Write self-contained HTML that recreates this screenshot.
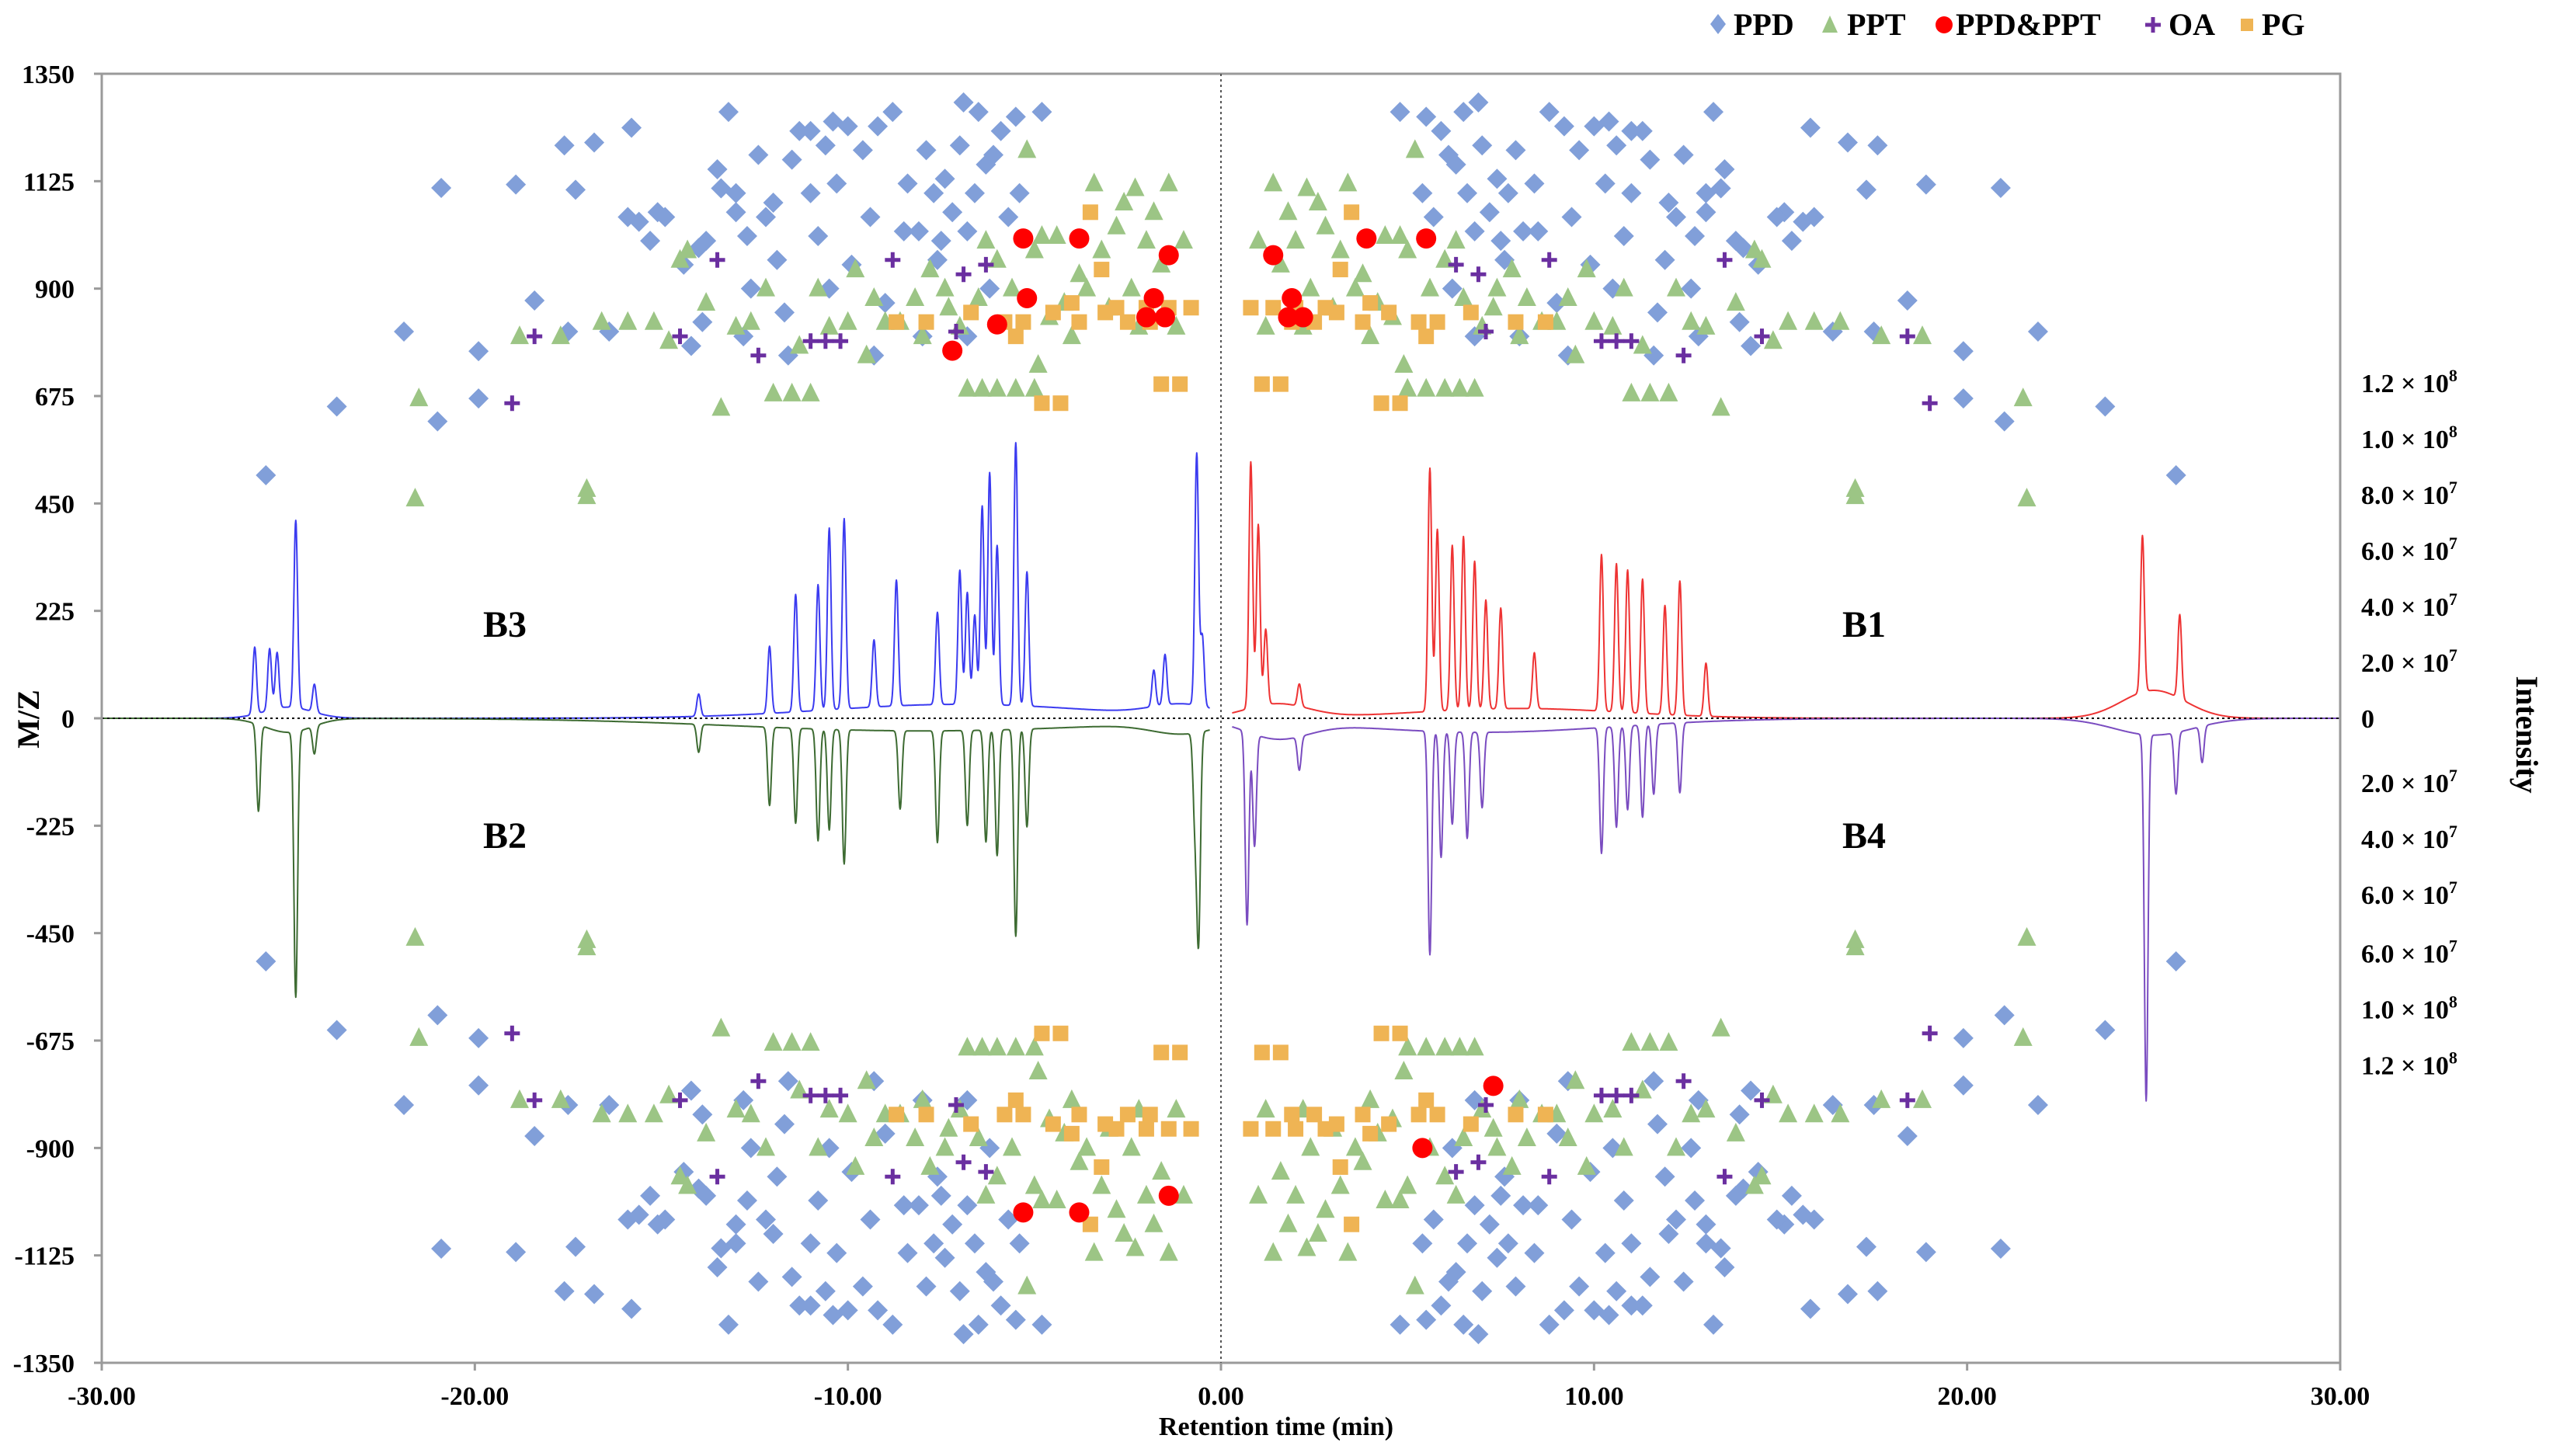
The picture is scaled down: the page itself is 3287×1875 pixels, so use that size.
<!DOCTYPE html>
<html><head><meta charset="utf-8"><style>
html,body{margin:0;padding:0;background:#fff;}
svg{display:block;font-family:"Liberation Serif",serif;font-weight:bold;}
</style></head><body>
<svg id="chart" width="3287" height="1875" viewBox="0 0 3287 1875" xmlns="http://www.w3.org/2000/svg">
<g id="plot"></g>
<g id="axes"></g>
<text x="0" y="0" transform="translate(50,926) rotate(-90)" text-anchor="middle" font-size="40">M/Z</text>
<text x="1643" y="1848" text-anchor="middle" font-size="34">Retention time (min)</text>
<text x="0" y="0" transform="translate(3240,946) rotate(90)" text-anchor="middle" font-size="40">Intensity</text>
<text x="650" y="820" text-anchor="middle" font-size="48">B3</text>
<text x="2400" y="820" text-anchor="middle" font-size="48">B1</text>
<text x="650" y="1092" text-anchor="middle" font-size="48">B2</text>
<text x="2400" y="1092" text-anchor="middle" font-size="48">B4</text>
<g font-size="40">
 <polygon points="2212,18 2222,31 2212,44 2202,31" fill="#819fd9"/>
 <text x="2232" y="45">PPD</text>
 <polygon points="2356,20 2366,42 2346,42" fill="#9cc585"/>
 <text x="2378" y="45">PPT</text>
 <circle cx="2503" cy="32" r="11" fill="#ff0000"/>
 <text x="2518" y="45">PPD&amp;PPT</text>
 <path d="M2762 32h20M2772 22v20" stroke="#7030a0" stroke-width="5"/>
 <text x="2792" y="45">OA</text>
 <rect x="2885" y="24" width="16" height="16" fill="#efb454"/>
 <text x="2912" y="45">PG</text>
</g>
</svg>
<script>
const xTicks=[-30,-20,-10,0,10,20,30];
const xTickLabels=["-30.00","-20.00","-10.00","0.00","10.00","20.00","30.00"];
const yTicks=[1350,1125,900,675,450,225,0,-225,-450,-675,-900,-1125,-1350];
const rightLabels=["1.2","1.0","8.0","6.0","4.0","2.0","0","2.0","4.0","6.0","6.0","1.0","1.2"];
const rightExp=["8","8","7","7","7","7","","7","7","7","7","8","8"];
const rightPos=[12,10,8,6,4,2,0,-2.3,-4.3,-6.3,-8.4,-10.4,-12.4];
// top-left quadrant scatter (time, m/z); other quadrants mirror (positive/negative modes)
const ppdX=[-25.6,-23.7,-21.9,-21.0,-20.9,-19.9,-19.9,-18.9,-18.4,-17.5,-17.3,-17.6,-16.8,-15.8,-16.4,-15.9,-15.6,-15.3,-15.1,-14.9,-14.4,-14.0,-13.8,-13.5,-13.4,-13.2,-13.0,-13.0,-12.7,-12.6,-12.4,-12.2,-12.0,-11.9,-11.7,-11.5,-11.3,-11.0,-11.0,-10.8,-10.6,-10.4,-10.3,-10.0,-9.9,-9.6,-9.4,-9.2,-9.0,-8.8,-8.5,-8.4,-8.1,-7.9,-7.7,-7.6,-7.4,-7.2,-7.0,-6.8,-6.6,-6.5,-6.3,-6.1,-5.9,-5.7,-5.5,-5.4,-6.9,-6.2,-8.0,-10.5,-12.8,-14.2,-13.9,-11.6,-9.3,-7.5,-6.8,-4.8];
const ppdY=[509,653,810,622,1111,769,670,1118,875,810,1107,1200,1206,1237,810,1050,1040,1000,1060,1050,950,985,1000,1150,1110,1270,1100,1060,1010,900,1180,1050,1080,960,850,1170,1230,1230,1100,1010,1200,1250,1120,1240,950,1190,1050,1240,870,1270,1020,1120,1020,1190,1100,960,1130,1060,1200,1020,1100,1270,1160,1180,1230,1050,1260,1100,1290,900,800,900,800,780,830,760,760,1000,800,1270];
const pptX=[-21.6,-21.5,-17.0,-17.0,-18.8,-17.7,-16.6,-15.2,-14.8,-14.5,-14.3,-13.4,-13.0,-12.6,-12.0,-11.5,-11.0,-10.5,-10.0,-9.8,-9.5,-9.0,-8.6,-8.0,-7.8,-7.4,-7.0,-6.8,-6.4,-6.0,-5.5,-7.3,-6.5,-6.0,-5.6,-5.0,-4.6,-4.4,-4.0,-3.6,-3.2,-2.8,-2.4,-2.0,-1.8,-1.4,-1.2,-2.2,-3.0,-4.8,-5.2,-4.2,-3.4,-2.6,-1.6,-10.8,-12.2,-13.8,-15.9,-11.3,-8.2,-9.3,-6.3,-4.9,-5.0,-1.0,-3.8,-2.3];
const pptY=[460,670,480,465,800,800,830,830,790,960,980,650,820,830,680,680,680,820,830,940,760,830,830,800,940,900,820,690,690,690,690,860,880,960,900,980,840,1010,800,900,980,1030,900,1000,1060,1120,820,820,860,1010,1190,870,1120,1080,950,900,900,870,830,780,880,880,1000,740,690,1000,930,1110];
const redX=[-5.3,-3.8,-1.4,-5.2,-1.8,-6.0,-2.0,-1.5,-7.2];
const redY=[1005,1005,970,880,880,825,840,840,770];
const redTRX=[1.4,3.9,5.5,1.9,1.8,2.2];
const redTRY=[970,1005,1005,880,840,840];
const redBLX=[-5.3,-3.8,-1.4];
const redBLY=[-1035,-1035,-1000];
const redBRX=[7.3,5.4];
const redBRY=[-770,-900];
const oaX=[-19.0,-18.4,-14.5,-13.5,-12.4,-11.0,-10.6,-10.2,-8.8,-6.9,-6.3,-7.1];
const oaY=[660,800,800,960,760,790,790,790,960,930,950,810];
const pgX=[-5.3,-4.8,-4.3,-1.6,-1.1,-3.5,-3.2,-2.8,-2.5,-2.0,-1.4,-0.8,-3.8,-4.5,-5.5,-6.7,-7.9,-8.7,-4.0,-5.8,-1.9,-3.1];
const pgY=[830,660,660,700,700,1060,940,860,830,860,860,860,830,850,800,850,830,830,870,830,830,850];
// chromatogram peaks: time (min), height (x1e7)
const b3T=[-25.9,-25.5,-25.3,-24.8,-24.3,-14.0,-12.1,-11.4,-10.8,-10.5,-10.1,-9.3,-8.7,-7.6,-7.0,-6.8,-6.6,-6.4,-6.2,-6.0,-5.5,-5.2,-1.8,-1.5,-0.65,-0.5];
const b3H=[2.4,2.2,2.0,6.7,1.0,0.8,2.4,4.2,4.5,6.5,6.8,2.4,4.5,3.3,4.8,4.0,3.2,7.1,8.3,5.7,9.4,4.8,1.3,1.8,9.0,2.5];
const b2T=[-25.8,-24.8,-24.3,-14.0,-12.1,-11.4,-10.8,-10.5,-10.1,-8.6,-7.6,-6.8,-6.3,-6.0,-5.5,-5.2,-0.7,-0.6];
const b2H=[3.1,9.5,1.0,1.0,2.8,3.4,4.0,3.6,4.8,2.8,4.0,3.4,4.0,4.5,7.4,3.5,3.0,7.3];
const b1T=[0.8,1.0,1.2,2.1,5.6,5.8,6.2,6.5,6.8,7.1,7.5,8.4,10.2,10.6,10.9,11.3,11.9,12.3,13.0,24.7,25.7];
const b1H=[8.8,6.5,2.7,0.8,8.7,6.5,5.9,6.2,5.3,3.9,3.6,2.0,5.6,5.3,5.1,4.8,3.9,4.8,1.9,5.6,3.0];
const b4T=[0.7,0.9,2.1,5.6,5.9,6.2,6.6,7.0,10.2,10.6,10.9,11.3,11.6,12.3,24.8,25.6,26.3];
const b4H=[6.9,4.0,1.2,8.0,4.5,3.3,3.8,2.7,4.5,3.6,3.0,3.3,2.5,2.5,13.1,2.2,1.3];
// broad background humps: center, width, height (x1e7)
const b3Base=[-25.0,0.9,0.4,-7,5,0.5,-1,1.2,0.4];
const b2Base=[-25.0,0.9,0.5,-8,7,0.45,-1,1.2,0.4];
const b1Base=[1.5,1.2,0.5,8,4,0.35,25,1.2,1.0];
const b4Base=[1.5,1.2,0.6,7,5,0.5,25,1.5,0.6];

const NS="http://www.w3.org/2000/svg";
const L=131,R=3013,T=95,B=1755,Y0=925;
const xs=t=>L+(t+30)/60*(R-L);
const ys=m=>Y0-m/1350*(Y0-T);
const is=h=>h*36;
const plot=document.getElementById('plot'),axes=document.getElementById('axes');
function mk(tag,attrs,parent){const e=document.createElementNS(NS,tag);for(const k in attrs)e.setAttribute(k,attrs[k]);parent.appendChild(e);return e;}

let fr=mk('rect',{x:L,y:T,width:R-L,height:B-T,fill:'none',stroke:'#9a9a9a','stroke-width':3},axes);


let vl=mk('line',{x1:xs(0),x2:xs(0),y1:T,y2:B,stroke:'#555','stroke-width':2,'stroke-dasharray':'3,4'},axes);


yTicks.forEach(v=>{
  let tk=mk('line',{x1:L-10,x2:L,y1:ys(v),y2:ys(v),stroke:'#9a9a9a','stroke-width':3},axes);
  
  
  let tx=mk('text',{x:L-35,y:ys(v)+12,'text-anchor':'end','font-size':34},axes);
  tx.textContent=v;
  
  
});
xTicks.forEach((v,i)=>{
  let tk=mk('line',{x1:xs(v),x2:xs(v),y1:B,y2:B+10,stroke:'#9a9a9a','stroke-width':3},axes);
  
  
  let tx=mk('text',{x:xs(v),y:B+54,'text-anchor':'middle','font-size':34},axes);
  tx.textContent=xTickLabels[i];
  
  
});
rightLabels.forEach((s,i)=>{
  let tx=mk('text',{x:3040,y:Y0-is(rightPos[i])+12,'font-size':34},axes);
  
  
  if(rightExp[i]){
    tx.textContent=s+' \u00d7 10';
    let sp=mk('tspan',{dy:-14,'font-size':22},tx);sp.textContent=rightExp[i];
  } else tx.textContent=s;
});

function trace(Ts,Hs,t0,t1,dir,color,name,base){
  let d='';
  for(let t=t0;t<=t1+1e-9;t+=0.01){
    let h=0;
    for(let k=0;k<Ts.length;k++){const z=(t-Ts[k])/0.07;h+=Hs[k]*Math.exp(-z*z);}
    for(let k=0;k<base.length;k+=3){const z=(t-base[k])/base[k+1];h+=base[k+2]*Math.exp(-z*z);}
    d+=(d?'L':'M')+xs(t).toFixed(1)+' '+(Y0-dir*is(h)).toFixed(1);
  }
  let p=mk('path',{d:d,fill:'none',stroke:color,'stroke-width':2,'stroke-linejoin':'round'},plot);
  
  
}
trace(b3T,b3H,-30,-0.3,1,'#3b3bf0','trace-b3',b3Base);
trace(b2T,b2H,-30,-0.3,-1,'#3d6b32','trace-b2',b2Base);
trace(b1T,b1H,0.3,30,1,'#ee3333','trace-b1',b1Base);
trace(b4T,b4H,0.3,30,-1,'#7a4cc0','trace-b4',b4Base);
let hl=mk('line',{x1:L,x2:R,y1:Y0,y2:Y0,stroke:'#000','stroke-width':2,'stroke-dasharray':'3,4'},plot);



function diamond(x,y,g){const s=13;let e=mk('polygon',{points:`${x},${y-s} ${x+s},${y} ${x},${y+s} ${x-s},${y}`,fill:'#819fd9'},g);}
function tri(x,y,g){let e=mk('polygon',{points:`${x},${y-14} ${x+12},${y+10} ${x-12},${y+10}`,fill:'#9cc585'},g);}
function circ(x,y,g){let e=mk('circle',{cx:x,cy:y,r:13,fill:'#ff0000'},g);}
function plus(x,y,g){let e=mk('path',{d:`M${x-10} ${y}h20M${x} ${y-10}v20`,stroke:'#6a2fa0','stroke-width':5},g);}
function sq(x,y,g){let e=mk('rect',{x:x-10,y:y-10,width:20,height:20,fill:'#efb454'},g);}
const quads=[[1,1],[-1,1],[1,-1],[-1,-1]];
const g=mk('g',{},plot);


quads.forEach(([sx,sy])=>{ppdX.forEach((x,i)=>diamond(xs(sx*x),ys(sy*ppdY[i]),g));});
quads.forEach(([sx,sy])=>{pptX.forEach((x,i)=>tri(xs(sx*x),ys(sy*pptY[i]),g));});
quads.forEach(([sx,sy])=>{pgX.forEach((x,i)=>sq(xs(sx*x),ys(sy*pgY[i]),g));});
redX.forEach((x,i)=>circ(xs(x),ys(redY[i]),g));
redTRX.forEach((x,i)=>circ(xs(x),ys(redTRY[i]),g));
redBLX.forEach((x,i)=>circ(xs(x),ys(redBLY[i]),g));
redBRX.forEach((x,i)=>circ(xs(x),ys(redBRY[i]),g));
quads.forEach(([sx,sy])=>{oaX.forEach((x,i)=>plus(xs(sx*x),ys(sy*oaY[i]),g));});
</script>
</body></html>
